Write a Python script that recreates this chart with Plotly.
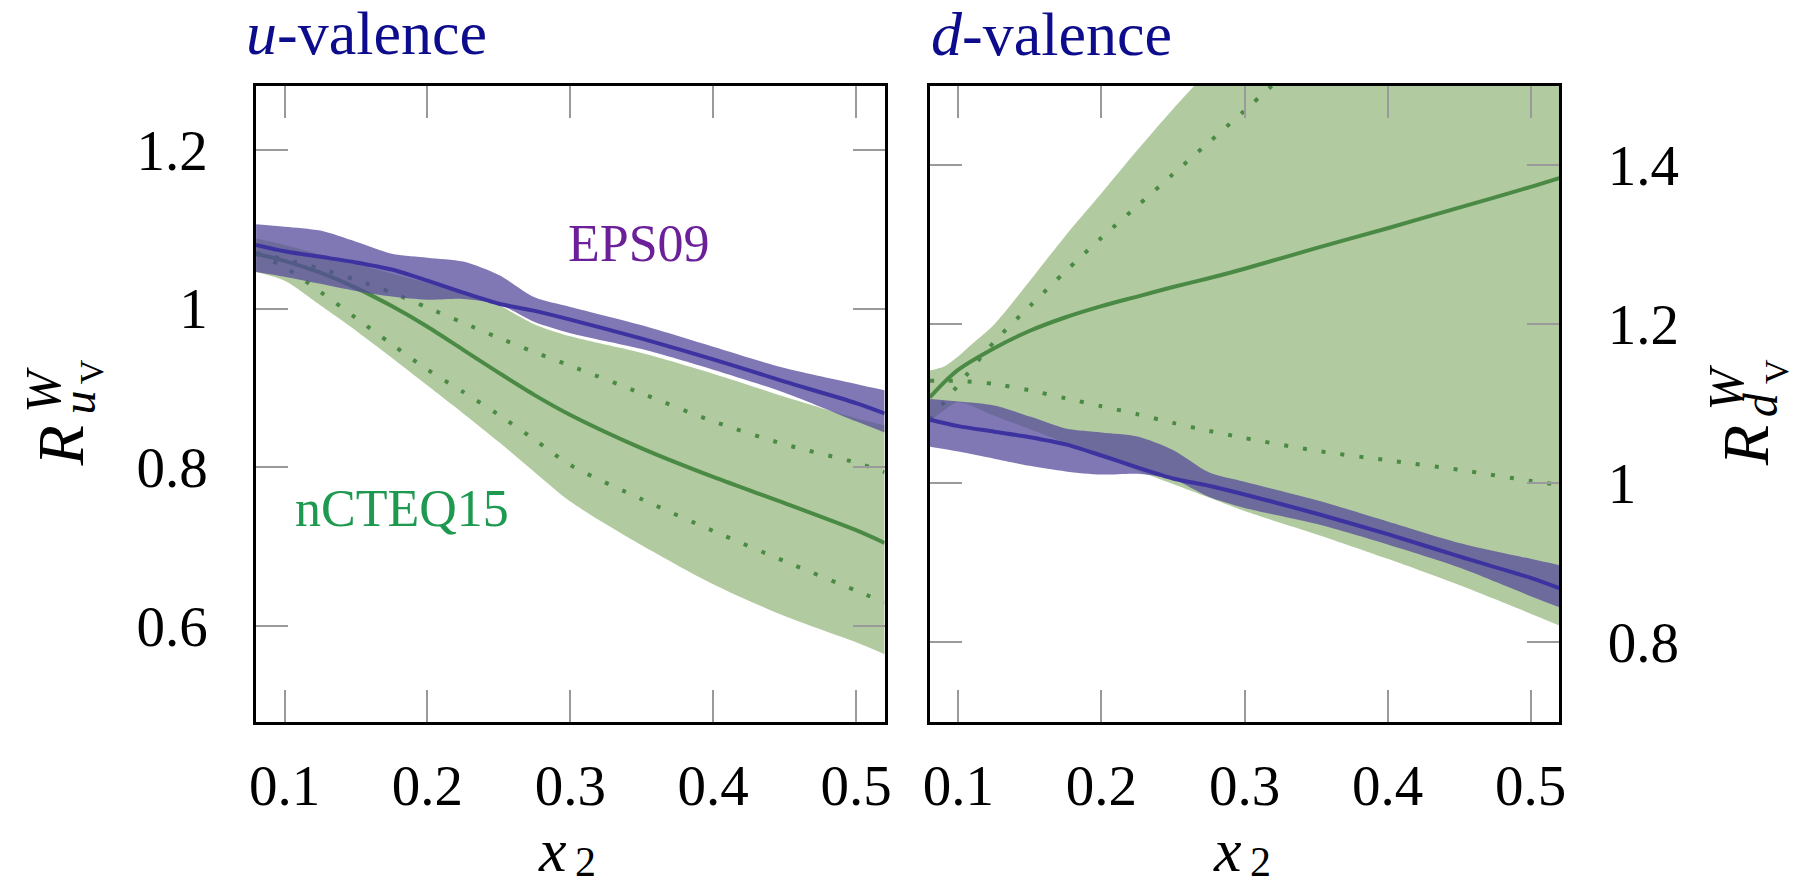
import plotly.graph_objects as go

# ---------------- data ----------------
# EPS09 (same band in both panels)
eps_x = [0.08, 0.10, 0.125, 0.15, 0.175, 0.20, 0.225, 0.25, 0.275, 0.30, 0.35, 0.40, 0.45, 0.50, 0.52]
eps_central = [1.080, 1.072, 1.065, 1.058, 1.049, 1.035, 1.020, 1.006, 0.997, 0.986, 0.962, 0.936, 0.908, 0.881, 0.868]
eps_upper = [1.106, 1.103, 1.098, 1.084, 1.069, 1.064, 1.059, 1.042, 1.014, 1.002, 0.979, 0.952, 0.925, 0.905, 0.897]
eps_lower = [1.046, 1.040, 1.031, 1.022, 1.015, 1.011, 1.012, 1.005, 0.983, 0.969, 0.949, 0.923, 0.894, 0.858, 0.844]

# nCTEQ15, u-valence (left panel)
u_x = [0.08, 0.10, 0.125, 0.15, 0.175, 0.20, 0.225, 0.25, 0.275, 0.30, 0.35, 0.40, 0.45, 0.50, 0.52]
u_central = [1.069, 1.060, 1.045, 1.026, 1.003, 0.977, 0.948, 0.919, 0.891, 0.866, 0.824, 0.788, 0.755, 0.721, 0.705]
u_upper = [1.088, 1.080, 1.068, 1.056, 1.044, 1.032, 1.020, 1.004, 0.980, 0.965, 0.944, 0.918, 0.889, 0.862, 0.853]
u_lower = [1.046, 1.035, 1.004, 0.972, 0.938, 0.903, 0.868, 0.832, 0.794, 0.757, 0.702, 0.653, 0.613, 0.580, 0.565]
u_dot_a = [1.070, 1.062, 1.050, 1.036, 1.020, 1.001, 0.982, 0.963, 0.945, 0.928, 0.893, 0.858, 0.829, 0.806, 0.794]
u_dot_b = [1.069, 1.052, 1.021, 0.988, 0.955, 0.923, 0.895, 0.866, 0.835, 0.803, 0.760, 0.720, 0.682, 0.645, 0.630]

# nCTEQ15, d-valence (right panel)
d_x = [0.08, 0.09, 0.10, 0.125, 0.15, 0.175, 0.20, 0.225, 0.25, 0.275, 0.30, 0.35, 0.40, 0.45, 0.50, 0.52]
d_central = [1.108, 1.127, 1.143, 1.170, 1.192, 1.209, 1.223, 1.235, 1.247, 1.258, 1.270, 1.296, 1.321, 1.347, 1.373, 1.384]
d_lower = [1.078, 1.092, 1.102, 1.085, 1.068, 1.051, 1.034, 1.016, 0.999, 0.982, 0.965, 0.936, 0.905, 0.872, 0.836, 0.821]
d_dot_b = [1.129, 1.129, 1.129, 1.125, 1.117, 1.107, 1.097, 1.087, 1.076, 1.066, 1.057, 1.041, 1.029, 1.017, 1.003, 0.998]
d_up_x = [0.08, 0.09, 0.10, 0.11, 0.125, 0.15, 0.175, 0.20, 0.225, 0.25, 0.275, 0.30, 0.40, 0.52]
d_upper = [1.142, 1.147, 1.160, 1.176, 1.200, 1.255, 1.312, 1.365, 1.419, 1.471, 1.520, 1.570, 1.780, 2.000]
d_dot_x = [0.08, 0.09, 0.10, 0.125, 0.15, 0.175, 0.20, 0.225, 0.25, 0.275, 0.30, 0.325]
d_dot_a = [1.080, 1.102, 1.124, 1.178, 1.223, 1.267, 1.309, 1.349, 1.389, 1.429, 1.469, 1.510]

x_ticks = [0.1, 0.2, 0.3, 0.4, 0.5]
x_ticktext = ["0.1", "0.2", "0.3", "0.4", "0.5"]
yl_ticks = [0.6, 0.8, 1.0, 1.2]
yl_ticktext = ["0.6", "0.8", "1", "1.2"]
yr_ticks = [0.8, 1.0, 1.2, 1.4]
yr_ticktext = ["0.8", "1", "1.2", "1.4"]

# ---------------- style ----------------
W, H = 1800, 887
FONT = "Liberation Serif"
GREEN_FILL = "rgba(99,150,64,0.50)"
PURPLE_FILL = "rgba(86,75,155,0.75)"
GREEN_LINE = "#4a8a45"
BLUE_LINE = "#3d33a0"
DOT = "4px,15px"
SMOOTH = 0.8


def px(x):
    return x / W


def py(y):
    return 1 - y / H


fig = go.Figure()


def band(xs_up, up, xs_lo, lo, color, xa, ya):
    # lower edge (invisible) followed by upper edge filled down to it
    fig.add_trace(go.Scatter(
        x=xs_lo, y=lo, mode="lines",
        line=dict(width=0, shape="spline", smoothing=SMOOTH),
        hoverinfo="skip", showlegend=False, xaxis=xa, yaxis=ya))
    fig.add_trace(go.Scatter(
        x=xs_up, y=up, mode="lines", fill="tonexty", fillcolor=color,
        line=dict(width=0, shape="spline", smoothing=SMOOTH),
        hoverinfo="skip", showlegend=False, xaxis=xa, yaxis=ya))


def line(xs, ys, color, xa, ya, dash="solid", width=4):
    fig.add_trace(go.Scatter(
        x=xs, y=ys, mode="lines",
        line=dict(color=color, width=width, dash=dash, shape="spline", smoothing=SMOOTH),
        hoverinfo="skip", showlegend=False, xaxis=xa, yaxis=ya))


# left panel
band(u_x, u_upper, u_x, u_lower, GREEN_FILL, "x", "y")
line(u_x, u_central, GREEN_LINE, "x", "y")
line(u_x, u_dot_a, GREEN_LINE, "x", "y", dash=DOT)
line(u_x, u_dot_b, GREEN_LINE, "x", "y", dash=DOT)
band(eps_x, eps_upper, eps_x, eps_lower, PURPLE_FILL, "x", "y")
line(eps_x, eps_central, BLUE_LINE, "x", "y")

# right panel
band(d_up_x, d_upper, d_x, d_lower, GREEN_FILL, "x2", "y2")
line(d_x, d_central, GREEN_LINE, "x2", "y2")
line(d_dot_x, d_dot_a, GREEN_LINE, "x2", "y2", dash=DOT)
line(d_x, d_dot_b, GREEN_LINE, "x2", "y2", dash=DOT)
band(eps_x, eps_upper, eps_x, eps_lower, PURPLE_FILL, "x2", "y2")
line(eps_x, eps_central, BLUE_LINE, "x2", "y2")

tickfont = dict(family=FONT, size=57, color="black")
common_axis = dict(
    ticks="inside", ticklen=32, tickwidth=2, tickcolor="#9a9a9a",
    showline=True, linecolor="black", linewidth=3, mirror="ticks",
    showgrid=False, zeroline=False, tickfont=tickfont,
)

ydom = [py(721.7), py(86)]
fig.update_layout(
    width=W, height=H, margin=dict(l=0, r=0, t=0, b=0),
    paper_bgcolor="white", plot_bgcolor="white", showlegend=False,
    xaxis=dict(domain=[px(251), px(884.5)], range=[0.08, 0.52], tickvals=x_ticks,
               ticktext=x_ticktext, anchor="y", ticklabelstandoff=12, **common_axis),
    yaxis=dict(domain=ydom, range=[0.48, 1.28], tickvals=yl_ticks, ticktext=yl_ticktext,
               anchor="x", ticklabelstandoff=34, **common_axis),
    xaxis2=dict(domain=[px(930), px(1564.5)], range=[0.08, 0.52], tickvals=x_ticks,
                ticktext=x_ticktext, anchor="y2", ticklabelstandoff=12, **common_axis),
    yaxis2=dict(domain=ydom, range=[0.7, 1.5], tickvals=yr_ticks, ticktext=yr_ticktext,
                anchor="x2", side="right", ticklabelstandoff=34, **common_axis),
)


def ann(text, x, y, size, color="black", xanchor="center", yanchor="middle", angle=0):
    fig.add_annotation(text=text, x=px(x), y=py(y), xref="paper", yref="paper",
                       showarrow=False, xanchor=xanchor, yanchor=yanchor, textangle=angle,
                       borderpad=0, font=dict(family=FONT, size=size, color=color))


TITLE = "#0c0c8c"
ann("<i>u</i>-valence", 240, 33, 62, TITLE, xanchor="left")
ann("<i>d</i>-valence", 930, 34, 62, TITLE, xanchor="left")
ann("EPS09", 637, 243, 52, "#6b1f99")
ann("nCTEQ15", 398, 508, 52, "#1d9a4f")

# x axis titles: italic x with subscript 2
ann("<i>x</i>", 550, 885, 62, yanchor="bottom")
ann("2", 583, 886, 42, yanchor="bottom")
ann("<i>x</i>", 1230, 885, 62, yanchor="bottom")
ann("2", 1263, 886, 42, yanchor="bottom")

# y axis titles (rotated)
ann("<i>R</i>", 53, 446, 66, angle=-90)
ann("<i>W</i>", 36, 390, 50, angle=-90)
ann("<i>u</i>", 72, 402, 48, angle=-90)
ann("V", 86, 372, 34, angle=-90)

ann("<i>R</i>", 1752, 446, 66, angle=-90)
ann("<i>W</i>", 1732, 388, 50, angle=-90)
ann("<i>d</i>", 1768, 405, 48, angle=-90)
ann("V", 1784, 372, 34, angle=-90)

fig.write_html("out.html")
